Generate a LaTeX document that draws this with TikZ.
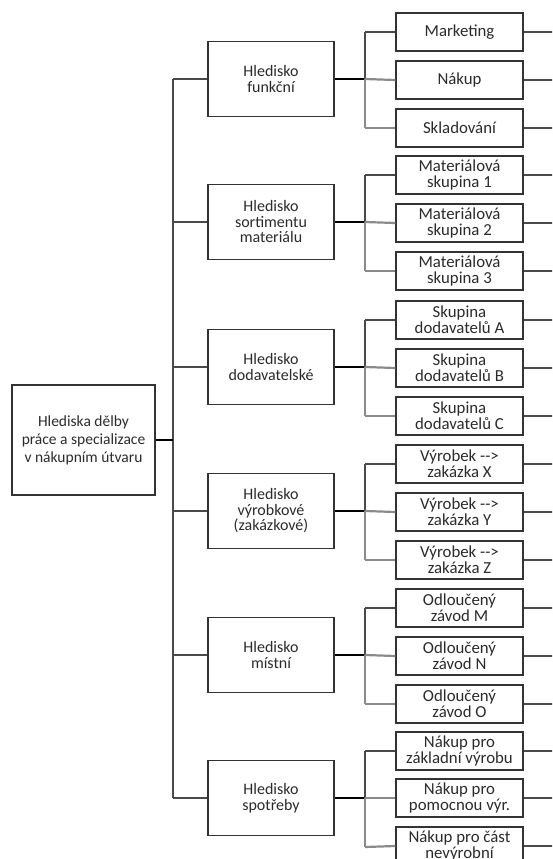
\documentclass[tikz,border=0pt]{standalone}
\usepackage{fontspec}
\setmainfont{Carlito}
\newcommand\dashgt{\mbox{-}\mbox{-}\mbox{>}}
\definecolor{ink}{HTML}{2B2B2B}
\definecolor{frame}{HTML}{333333}
\definecolor{spine}{HTML}{4A4A4A}
\definecolor{twig}{HTML}{8A8A8A}
\tikzset{
  box/.style={draw=frame, line width=1.3pt, fill=white, align=center, text=ink,
    inner sep=0pt, font=\fontsize{16.8}{16}\selectfont},
  rootbox/.style={box, minimum width=143pt, minimum height=110pt, font=\fontsize{15.5}{18}\selectfont},
  aspect/.style={box, minimum width=126pt, minimum height=75pt, font=\fontsize{16}{15.5}\selectfont},
  leaf/.style={box, minimum width=127pt, minimum height=38pt},
  heavy/.style={draw=black, line width=2pt},
  dark/.style={draw=spine, line width=1.5pt},
  light/.style={draw=twig, line width=2.2pt},
}
\begin{document}
\begin{tikzpicture}[x=1pt, y=-1pt]
\useasboundingbox (0,0) rectangle (552,859);
\clip (0,0) rectangle (552,859);

% root of the tree
\node[rootbox] (root) at (83.5,440) {Hlediska dělby\\práce a specializace\\v nákupním útvaru};
\coordinate (rj) at (173,440);
\coordinate (stop) at (173,79);
\coordinate (sbot) at (173,798);
\draw[dark] (stop) -- (sbot);

% one aspect with its three groups
\newcommand\aspectgroup[5]{%
  \node[aspect] (#1) at (271,#2) {#3};
  \coordinate (#1s) at (173,#2);
  \coordinate (#1j) at (365,#2);
  \coordinate (#1t) at (365,#2-47);
  \coordinate (#1b) at (365,#2+49);
  \draw[dark] (#1s) -- (#1.west);
  \draw[heavy] (#1.east) -- (#1j);
  \draw[dark] (#1j) -- (#1t);
  \draw[light] (#1j) -- (#1b);
  \foreach \k/\dy/\txt [count=\i] in {#4} {
    \node[leaf] (#1l\i) at (459.5,#2+\dy) {\txt};
    \coordinate (#1e\i) at (553,#2+\dy);
    \draw[dark] (#1l\i.east) -- (#1e\i);
  }
  \draw[dark] (#1t) -- (#1l1.west);
  \draw[light] (#1j) -- (#1l2.west);
  \draw[light] (#1b) -- (#1l3.west);
}

\aspectgroup{fn}{79}{Hledisko\\funkční}{
  a/-47/{Marketing}, b/1/{Nákup}, c/49/{Skladování}}{}
\aspectgroup{so}{222}{Hledisko\\sortimentu\\materiálu}{
  a/-47/{Materiálová\\skupina 1}, b/1/{Materiálová\\skupina 2}, c/49/{Materiálová\\skupina 3}}{}
\aspectgroup{do}{367}{Hledisko\\dodavatelské}{
  a/-47/{Skupina\\dodavatelů A}, b/1/{Skupina\\dodavatelů B}, c/49/{Skupina\\dodavatelů C}}{}
\aspectgroup{vy}{511}{Hledisko\\výrobkové\\(zakázkové)}{
  a/-47/{Výrobek \dashgt\\zakázka X}, b/1/{Výrobek \dashgt\\zakázka Y}, c/49/{Výrobek \dashgt\\zakázka Z}}{}
\aspectgroup{mi}{655}{Hledisko\\místní}{
  a/-47/{Odloučený\\závod M}, b/1/{Odloučený\\závod N}, c/49/{Odloučený\\závod O}}{}
\aspectgroup{sp}{798}{Hledisko\\spotřeby}{
  a/-47/{Nákup pro\\základní výrobu}, b/0/{Nákup pro\\pomocnou výr.}, c/48/{Nákup pro část\\nevýrobní}}{}

\draw[heavy] (root.east) -- (rj);
\end{tikzpicture}
\end{document}
